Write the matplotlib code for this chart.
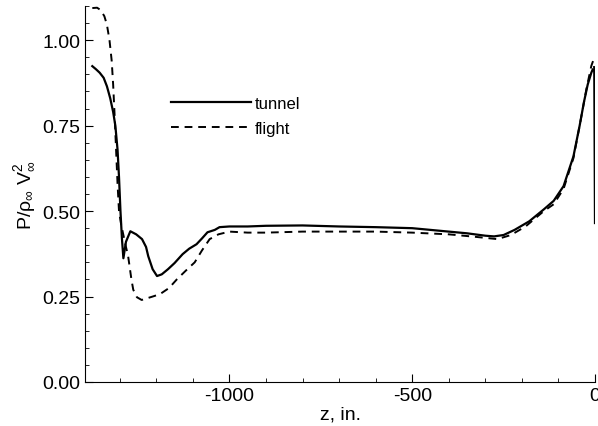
import numpy as np
import matplotlib
matplotlib.use('Agg')
import matplotlib.pyplot as plt
from matplotlib.ticker import MultipleLocator, FixedLocator

plt.rcParams['font.family'] = ['Liberation Sans', 'DejaVu Sans']
plt.rcParams['mathtext.fontset'] = 'custom'
plt.rcParams['mathtext.rm'] = 'Liberation Sans'
plt.rcParams['mathtext.it'] = 'Liberation Sans'
plt.rcParams['axes.unicode_minus'] = False

# tunnel data (solid)
tunnel_z = [-1375, -1365, -1355, -1344, -1335, -1326, -1318, -1312, -1306, -1302,
            -1298, -1294, -1290, -1283, -1271, -1255, -1239, -1228, -1222, -1210,
            -1198, -1185, -1168, -1150, -1128, -1110, -1090, -1075, -1060, -1040,
            -1027, -1000, -950, -900, -800, -700, -600, -500, -400, -350,
            -300, -276, -250, -220, -180, -140, -113, -86, -59, -42,
            -30, -20, -10, -6, -2, 0]
tunnel_p = [0.924, 0.915, 0.905, 0.89, 0.865, 0.83, 0.79, 0.75, 0.68, 0.60,
            0.50, 0.42, 0.362, 0.41, 0.441, 0.432, 0.418, 0.395, 0.368, 0.33,
            0.31, 0.315, 0.33, 0.348, 0.374, 0.39, 0.403, 0.42, 0.438, 0.445,
            0.453, 0.455, 0.455, 0.457, 0.458, 0.455, 0.453, 0.45, 0.44, 0.435,
            0.428, 0.426, 0.43, 0.445, 0.47, 0.505, 0.53, 0.573, 0.66, 0.75,
            0.82, 0.87, 0.905, 0.915, 0.91, 0.465]

# flight data (dashed)
flight_z = [-1375, -1362, -1352, -1342, -1335, -1328, -1322, -1318, -1314, -1310,
            -1306, -1302, -1296, -1290, -1284, -1277, -1268, -1263, -1253, -1240,
            -1231, -1210, -1190, -1165, -1144, -1120, -1095, -1075, -1054, -1030,
            -1000, -950, -900, -800, -700, -600, -500, -400, -330, -267,
            -230, -190, -140, -113, -86, -59, -42, -23, -10, -5, 0]
flight_p = [1.094, 1.095, 1.088, 1.07, 1.045, 1.00, 0.94, 0.87, 0.78, 0.68,
            0.58, 0.50, 0.46, 0.43, 0.40, 0.368, 0.30, 0.27, 0.248, 0.24,
            0.243, 0.25, 0.257, 0.275, 0.30, 0.325, 0.35, 0.385, 0.418, 0.432,
            0.44, 0.437, 0.437, 0.44, 0.44, 0.44, 0.437, 0.432, 0.425, 0.418,
            0.43, 0.455, 0.50, 0.52, 0.565, 0.655, 0.75, 0.86, 0.925, 0.94, 0.90]

fig = plt.figure(figsize=(5.98, 4.27), dpi=100)
ax = fig.add_axes([85/598, 1 - 383/427, (595 - 85)/598, (383 - 7)/427])

ax.plot(tunnel_z, tunnel_p, color='black', linewidth=1.6, label='tunnel')
ax.plot(flight_z, flight_p, color='black', linewidth=1.4, linestyle=(0, (4, 3)), label='flight')

ax.set_xlim(-1395, 0)
ax.set_ylim(0, 1.1)
ax.spines['top'].set_visible(False)
ax.spines['right'].set_visible(False)

ax.xaxis.set_major_locator(FixedLocator([-1000, -500, 0]))
ax.xaxis.set_minor_locator(MultipleLocator(100))
ax.yaxis.set_major_locator(FixedLocator([0, 0.25, 0.5, 0.75, 1.0]))
ax.yaxis.set_minor_locator(MultipleLocator(0.05))
ax.set_yticklabels(['0.00', '0.25', '0.50', '0.75', '1.00'])
ax.tick_params(which='both', direction='in', labelsize=14)
ax.tick_params(which='major', length=6)
ax.tick_params(which='minor', length=3)

ax.set_xlabel('z, in.', fontsize=14, labelpad=1)
ax.set_ylabel(r'P/$\rho_\infty$ V$_\infty^2$', fontsize=14)

ax.legend(loc='upper left', bbox_to_anchor=(0.14, 0.80), frameon=False,
          handlelength=4.8, handletextpad=0.2, fontsize=12, labelspacing=0.6)

fig.savefig('out.png', dpi=100)
